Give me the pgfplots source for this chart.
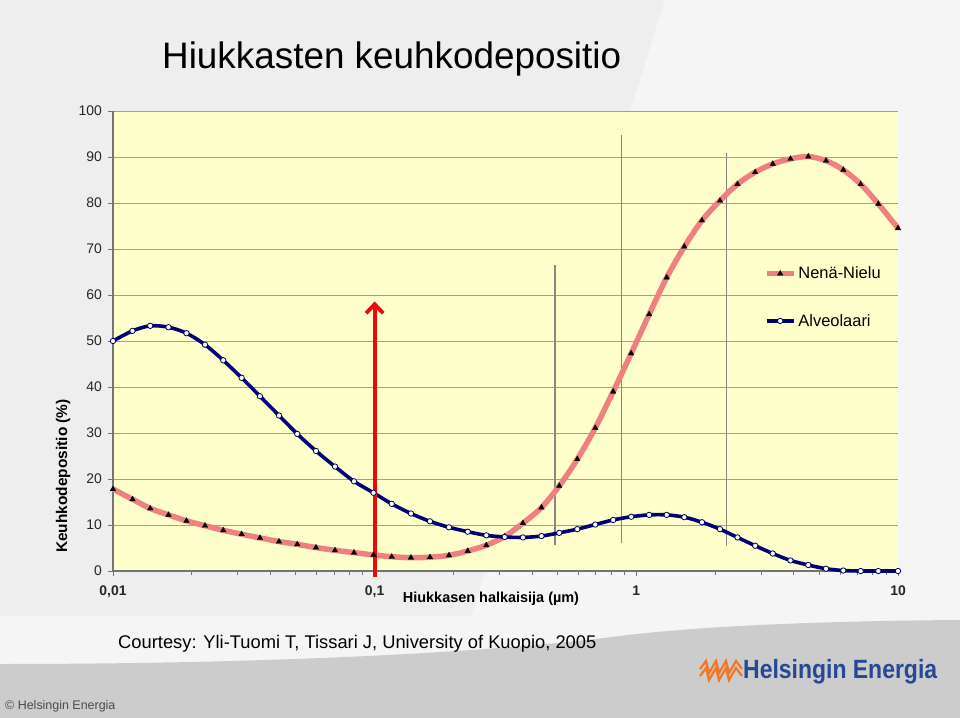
\documentclass[border=0pt]{standalone}
\usepackage{fontspec}
\setmainfont{Liberation Sans}
\usepackage{pgfplots}
\pgfplotsset{compat=1.18}
\usetikzlibrary{arrows.meta}
\definecolor{plotbg}{RGB}{255,255,204}
\definecolor{nena}{RGB}{240,128,128}
\definecolor{alv}{RGB}{0,0,120}
\definecolor{gridc}{RGB}{160,160,155}
\definecolor{axc}{RGB}{115,115,115}
\definecolor{vline}{RGB}{135,135,130}
\definecolor{slidebg}{RGB}{238,238,238}
\definecolor{band}{RGB}{204,204,204}
\definecolor{logoblue}{RGB}{38,72,150}
\definecolor{logoorange}{RGB}{240,118,40}
\definecolor{arrowred}{RGB}{235,10,10}
\begin{document}
\begin{tikzpicture}[x=1bp,y=1bp]
% slide background
\fill[slidebg] (0,0) rectangle (960,-718);
\fill[white,opacity=0.45] (665,0) -- (960,0) -- (960,-620) -- (470,-620) -- cycle;
\fill[white!96!black] (0,-616) rectangle (960,-718);
\fill[band] (0,-718) -- (0,-664) .. controls (250,-664) and (480,-654) .. (620,-636) .. controls (700,-626) and (820,-621) .. (960,-620) -- (960,-718) -- cycle;
\begin{axis}[
  at={(113bp,-571bp)}, anchor=south west,
  scale only axis, width=785bp, height=460bp,
  xmode=log, xmin=0.01, xmax=10, ymin=0, ymax=100,
  axis background/.style={fill=plotbg},
  axis x line*=bottom, axis y line*=left,
  axis line style={axc, line width=1.1bp},
  ytick={0,10,...,100},
  ymajorgrids, grid style={gridc, line width=0.9bp},
  xtick={0.01,0.1,1,10},
  xticklabels={{0,01},{0,1},{1},{10}},
  minor xtick={0.02,0.03,0.04,0.05,0.06,0.07,0.08,0.09,0.2,0.3,0.4,0.5,0.6,0.7,0.8,0.9,2,3,4,5,6,7,8,9},
  tick align=outside, major tick length=5bp, minor tick length=4bp,
  tick style={axc, line width=0.9bp},
  /pgf/number format/assume math mode=true,
  yticklabel style={font=\fontsize{14}{14}\selectfont, text=black!85, xshift=-2.5bp},
  xticklabel style={font=\bfseries\fontsize{14}{14}\selectfont, text=black!85, yshift=-6bp},
  clip=false,
  legend style={at={(axis description cs:0.829,0.666)}, anchor=north west,
    draw=none, fill=none, inner sep=0pt, row sep=30bp,
    font=\fontsize{16.5}{17}\selectfont},
  legend cell align=left,
  legend image code/.code={\draw[mark repeat=2, mark phase=2, #1] plot coordinates {(0bp,0bp) (13.5bp,0bp) (27bp,0bp)};},
]
% vertical marker lines
\addplot[vline, line width=1.3bp, forget plot] coordinates {(0.489,5.6) (0.489,66.5)};
\addplot[vline, line width=1.3bp, forget plot] coordinates {(0.879,6.0) (0.879,94.8)};
\addplot[vline, line width=1.3bp, forget plot] coordinates {(2.215,5.4) (2.215,90.9)};
% Nena-Nielu
\addplot[nena, line width=5.5bp, smooth, mark=triangle*, mark size=3.3bp,
  mark options={solid, draw=black, fill=black, line width=0.2bp}] coordinates {
(0.01,17.8) (0.01187,15.6) (0.01388,13.6) (0.0163,12.2) (0.01909,10.9) (0.02247,9.85)
(0.02639,8.85) (0.03102,8.0) (0.03645,7.2) (0.0431,6.4) (0.05061,5.8) (0.05967,5.1)
(0.07055,4.5) (0.08337,4.0) (0.09897,3.5) (0.1162,3.1) (0.1376,2.9) (0.1627,3.0)
(0.1923,3.4) (0.2268,4.35) (0.2671,5.6) (0.314,7.5) (0.3687,10.4) (0.434,13.8)
(0.5077,18.5) (0.5948,24.3) (0.6966,31.1) (0.8157,39.0) (0.9557,47.3) (1.1197,55.8)
(1.3062,63.8) (1.5252,70.5) (1.782,76.2) (2.0874,80.5) (2.4356,84.1) (2.8456,86.7)
(3.3228,88.5) (3.8816,89.6) (4.541,90.1) (5.3064,89.2) (6.1788,87.2) (7.2011,84.1)
(8.4089,79.8) (10,74.5)};
\addlegendentry{Nenä-Nielu}
% Alveolaari
\addplot[alv, line width=3.6bp, smooth, mark=*, mark size=2.7bp,
  mark options={solid, draw=alv!80!black, fill=white, line width=0.8bp}] coordinates {
(0.01,50.0) (0.01187,52.2) (0.01388,53.3) (0.0163,53.0) (0.01909,51.7) (0.02247,49.2)
(0.02639,45.8) (0.03102,42.0) (0.03645,38.0) (0.0431,33.8) (0.05061,29.8) (0.05967,26.1)
(0.07055,22.7) (0.08337,19.5) (0.09897,17.0) (0.1162,14.6) (0.1376,12.5) (0.1627,10.8)
(0.1923,9.5) (0.2268,8.55) (0.2671,7.75) (0.314,7.4) (0.3687,7.3) (0.434,7.6)
(0.5077,8.3) (0.5948,9.1) (0.6966,10.1) (0.8157,11.1) (0.9557,11.8) (1.1197,12.2)
(1.3062,12.2) (1.5252,11.7) (1.782,10.6) (2.0874,9.1) (2.4356,7.3) (2.8456,5.5)
(3.3228,3.8) (3.8816,2.3) (4.541,1.3) (5.3064,0.5) (6.1788,0.1) (7.2011,0)
(8.4089,0) (10,0)};
\addlegendentry{Alveolaari}
% red arrow
\draw[arrowred, line width=3.8bp, -{Straight Barb[length=9bp, width=17bp]}]
  (axis cs:0.1,-1.4) -- (axis cs:0.1,58.6);
\end{axis}
% texts
\node[anchor=base west, inner sep=0pt, font=\fontsize{37}{40}\selectfont] at (162,-69) {Hiukkasten keuhkodepositio};
\node[anchor=base, inner sep=0pt, font=\bfseries\fontsize{14.5}{15}\selectfont] at (491,-602) {Hiukkasen halkaisija (µm)};
\node[rotate=90, anchor=base, inner sep=0pt, font=\bfseries\fontsize{15.5}{16}\selectfont] at (67,-476) {Keuhkodepositio (\%)};
\node[anchor=base west, inner sep=0pt, font=\fontsize{18.4}{20}\selectfont] at (118,-648) {Courtesy: Yli-Tuomi T, Tissari J, University of Kuopio, 2005};
\node[anchor=base west, inner sep=0pt, text=black!70, font=\fontsize{12.5}{13}\selectfont] at (5,-709) {© Helsingin Energia};
% logo
\node[anchor=base west, inner sep=0pt, xscale=0.87, text=logoblue, font=\bfseries\fontsize{26.5}{28}\selectfont] at (743,-678) {Helsingin Energia};
\foreach \o in {0,7} {
  \draw[logoorange, line width=2.2bp, line join=miter]
    (700,-676+\o) -- (706,-668+\o) -- (709,-680+\o) -- (716,-668+\o) -- (719,-680+\o) -- (726,-668+\o) -- (729,-680+\o) -- (736,-668+\o) -- (742,-676+\o);
}
\end{tikzpicture}
\end{document}
